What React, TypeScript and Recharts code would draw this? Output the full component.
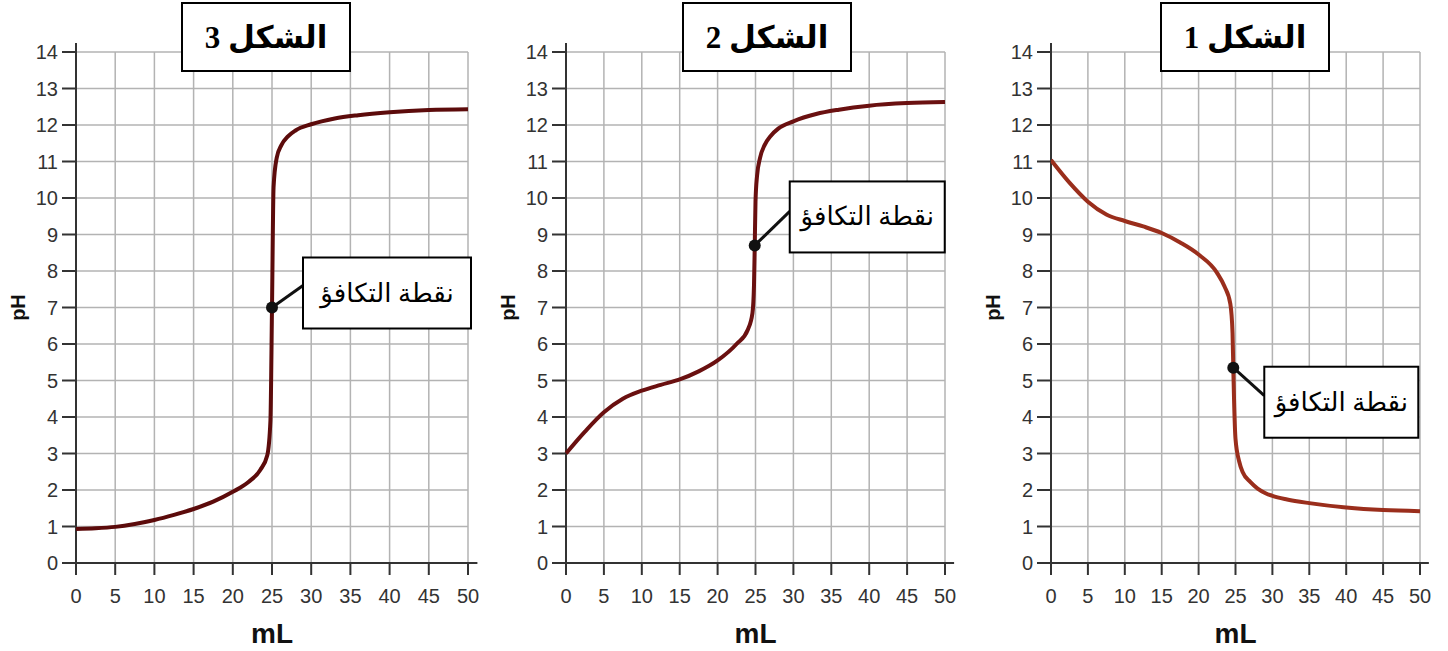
import { CartesianGrid, Line, LineChart, ReferenceDot, ReferenceLine, XAxis, YAxis } from "recharts";

// axis ticks
const ML_TICKS = [0, 5, 10, 15, 20, 25, 30, 35, 40, 45, 50];
const PH_TICKS = [0, 1, 2, 3, 4, 5, 6, 7, 8, 9, 10, 11, 12, 13, 14];

// الشكل 3 : strong acid + strong base
const FIG3_ML = [0, 2.5, 5, 7.5, 10, 12.5, 15, 17.5, 20, 22, 23.5, 24.4, 24.8, 25, 25.2, 25.6, 26.2, 27, 28, 30, 33, 36, 40, 45, 50];
const FIG3_PH = [0.93, 0.95, 0.99, 1.07, 1.18, 1.32, 1.48, 1.68, 1.95, 2.22, 2.55, 2.95, 3.9, 7, 10.3, 11.1, 11.45, 11.68, 11.85, 12.02, 12.18, 12.27, 12.35, 12.41, 12.43];

// الشكل 2 : weak acid + strong base
const FIG2_ML = [0, 2.5, 5, 7.5, 10, 12.5, 15, 17.5, 20, 22.5, 24, 24.6, 24.8, 24.9, 25, 25.2, 25.6, 26.2, 27, 28, 30, 33, 36, 40, 45, 50];
const FIG2_PH = [3.0, 3.6, 4.13, 4.5, 4.72, 4.88, 5.03, 5.25, 5.55, 6.0, 6.4, 6.85, 7.6, 8.7, 9.9, 10.6, 11.1, 11.45, 11.7, 11.9, 12.1, 12.3, 12.42, 12.53, 12.6, 12.63];

// الشكل 1 : weak base + strong acid
const FIG1_ML = [0, 2.5, 5, 7.5, 10, 12.5, 15, 17.5, 20, 22.5, 23.5, 24.3, 24.6, 24.7, 24.8, 25, 25.5, 26, 27, 28, 29, 30, 32, 35, 40, 45, 50];
const FIG1_PH = [11.04, 10.42, 9.9, 9.55, 9.37, 9.22, 9.04, 8.78, 8.45, 7.95, 7.58, 7.1, 6.3, 5.35, 4.5, 3.4, 2.78, 2.48, 2.22, 2.04, 1.92, 1.84, 1.74, 1.64, 1.52, 1.45, 1.42];

// equivalence points (panel order: 3, 2, 1)
const EQ_ML = [25, 24.9, 24.7];
const EQ_PH = [7, 8.7, 5.35];

const TITLES = ["الشكل 3", "الشكل 2", "الشكل 1"];
const EQ_LABEL = "نقطة التكافؤ";

const toRows = (ml: number[], ph: number[]) => ml.map((m, i) => ({ ml: m, ph: ph[i] }));
const SERIES = [toRows(FIG3_ML, FIG3_PH), toRows(FIG2_ML, FIG2_PH), toRows(FIG1_ML, FIG1_PH)];

const H = 651;
const PLOT_TOP = 52;
const PLOT_BOTTOM = 563;
const YW = 60;
const XH = 80;
const AXIS_C = "#333";
const SANS = "'Liberation Sans', Arial, sans-serif";
const TICK = { fill: "#333", fontSize: 20, fontFamily: SANS };
const TICK_LINE = { stroke: AXIS_C, strokeWidth: 2 };
const SERIF = "'Liberation Serif', 'DejaVu Sans', serif";

const PANELS = [
  { left: 0, width: 490, plotL: 76, plotR: 468, color: "#5c0b0b", titleX: 181, box: { dx: 31, dy: -50, w: 168, h: 71, lineDy: -22 } },
  { left: 490, width: 480, plotL: 76, plotR: 455, color: "#6a1010", titleX: 192, box: { dx: 35, dy: -64, w: 155, h: 71, lineDy: -34 } },
  { left: 970, width: 478, plotL: 81, plotR: 450, color: "#9a2e1c", titleX: 190, box: { dx: 31, dy: -1, w: 154, h: 71, lineDy: 28 } },
];

function EqMarker(props: any) {
  const { cx, cy, box } = props;
  const bx = cx + box.dx;
  const by = cy + box.dy;
  return (
    <g>
      <line x1={cx} y1={cy} x2={bx} y2={cy + box.lineDy} stroke="#111" strokeWidth={3} />
      <circle cx={cx} cy={cy} r={6} fill="#111" />
      <rect x={bx} y={by} width={box.w} height={box.h} fill="#fff" stroke="#000" strokeWidth={2} />
      <text x={bx + box.w / 2} y={by + box.h / 2} textAnchor="middle" dominantBaseline="central" fontSize={26} fontFamily={SERIF} fill="#000">
        {EQ_LABEL}
      </text>
    </g>
  );
}

function Panel({ idx }: { idx: number }) {
  const p = PANELS[idx];
  const midY = (PLOT_TOP + PLOT_BOTTOM) / 2;
  return (
    <div style={{ position: "absolute", left: p.left, top: 0, width: p.width, height: H }}>
      <LineChart
        width={p.width}
        height={H}
        data={SERIES[idx]}
        margin={{ top: PLOT_TOP, right: p.width - p.plotR, bottom: H - PLOT_BOTTOM - XH, left: p.plotL - YW }}
      >
        <CartesianGrid stroke="#b3b3b3" strokeWidth={1.5} />
        <XAxis
          dataKey="ml"
          type="number"
          domain={[0, 50]}
          ticks={ML_TICKS}
          interval={0}
          axisLine={false}
          tickLine={TICK_LINE}
          tickSize={12}
          tickMargin={14}
          tick={TICK}
          height={XH}
          label={() => (
            <text x={(p.plotL + p.plotR) / 2} y={PLOT_BOTTOM + 80} textAnchor="middle" fontSize={28} fontWeight="bold" fontFamily={SANS} fill="#111">
              mL
            </text>
          )}
        />
        <YAxis
          type="number"
          domain={[0, 14]}
          ticks={PH_TICKS}
          interval={0}
          axisLine={false}
          tickLine={TICK_LINE}
          tickSize={14}
          tickMargin={4}
          tick={TICK}
          width={YW}
          label={() => (
            <text
              x={p.plotL - 58}
              y={midY}
              transform={`rotate(-90, ${p.plotL - 58}, ${midY})`}
              textAnchor="middle"
              dominantBaseline="central"
              fontSize={20}
              fontWeight="bold"
              fontFamily={SANS}
              fill="#111"
            >
              pH
            </text>
          )}
        />
        <ReferenceLine segment={[{ x: 0, y: 0 }, { x: 0, y: 14.25 }]} stroke={AXIS_C} strokeWidth={2} ifOverflow="visible" />
        <ReferenceLine segment={[{ x: 0, y: 0 }, { x: 51.2, y: 0 }]} stroke={AXIS_C} strokeWidth={2} ifOverflow="visible" />
        <Line type="monotone" dataKey="ph" stroke={p.color} strokeWidth={4} dot={false} activeDot={false} isAnimationActive={false} />
        <ReferenceDot
          x={EQ_ML[idx]}
          y={EQ_PH[idx]}
          r={6}
          ifOverflow="visible"
          shape={(props: any) => <EqMarker {...props} box={p.box} />}
        />
      </LineChart>
      <div
        dir="rtl"
        style={{
          position: "absolute",
          left: p.titleX,
          top: 2,
          width: 170,
          height: 70,
          boxSizing: "border-box",
          border: "2px solid #000",
          background: "#fff",
          display: "flex",
          alignItems: "center",
          justifyContent: "center",
          fontFamily: SERIF,
          fontWeight: "bold",
          fontSize: 31,
          color: "#000",
        }}
      >
        {TITLES[idx]}
      </div>
    </div>
  );
}

export default function App() {
  return (
    <div style={{ position: "absolute", left: 0, top: 0, width: 1448, height: H, background: "#fff", overflow: "hidden" }}>
      <Panel idx={0} />
      <Panel idx={1} />
      <Panel idx={2} />
    </div>
  );
}
